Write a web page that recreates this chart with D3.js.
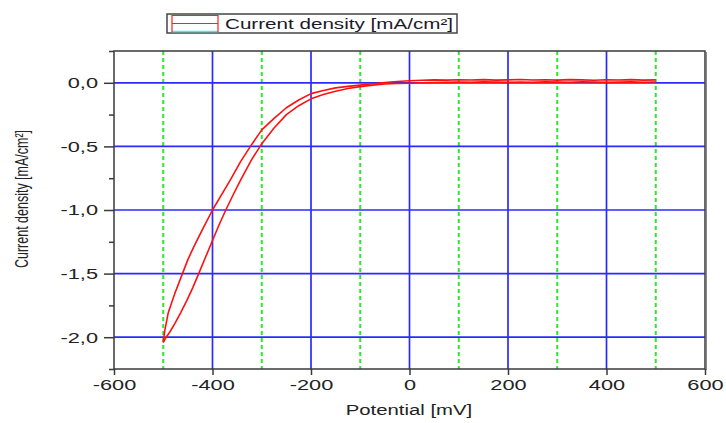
<!DOCTYPE html>
<html>
<head>
<meta charset="utf-8">
<script src="https://cdn.jsdelivr.net/npm/d3@7"></script>
<style>
  html, body { margin: 0; padding: 0; background: #fff; }
  svg { display: block; font-family: "Liberation Sans", Arial, sans-serif; }
</style>
</head>
<body>
<svg id="chart" width="726" height="423"></svg>
<script>
// Cyclic voltammogram: potential [mV] vs current density [mA/cm²]
// Cathodic sweep, 500 mV down to -500 mV
const sweepDownPotential = [500, 475, 450, 425, 400, 375, 350, 325, 300, 275, 250, 225, 200, 175, 150, 125, 100, 75, 50, 25, 0,
  -25, -50, -75, -100, -125, -150, -175, -200, -225, -250, -275, -300, -320, -343, -358, -373, -387, -400, -414, -428, -440, -452, -465, -476, -486, -494, -500];
const sweepDownCurrent = [0.006, 0.004, 0.007, 0.005, 0.003, 0.006, 0.008, 0.004, 0.005, 0.007, 0.004, 0.006, 0.003, 0.005, 0.007, 0.004, 0.005, 0.003, 0.002, 0.000, -0.003,
  -0.006, -0.010, -0.018, -0.030, -0.045, -0.066, -0.092, -0.126, -0.180, -0.250, -0.355, -0.480, -0.600, -0.765, -0.880, -1.000, -1.120, -1.240, -1.370, -1.500, -1.610, -1.710, -1.810, -1.890, -1.955, -2.000, -2.040];

// Anodic sweep, -500 mV back up to 500 mV
const sweepUpPotential = [-500, -497, -490, -476, -461, -450, -438, -420, -400, -380, -364, -343, -323, -300, -275, -250, -225, -200, -175, -150, -125, -100, -75, -50, -25, 0,
  25, 50, 75, 100, 125, 150, 175, 200, 225, 250, 275, 300, 325, 350, 375, 400, 425, 450, 475, 500];
const sweepUpCurrent = [-2.040, -1.950, -1.810, -1.650, -1.500, -1.390, -1.290, -1.150, -1.000, -0.870, -0.765, -0.620, -0.500, -0.370, -0.280, -0.196, -0.135, -0.085, -0.060, -0.040, -0.028, -0.018, -0.008, 0.002, 0.010, 0.016,
  0.020, 0.023, 0.021, 0.024, 0.022, 0.025, 0.021, 0.023, 0.026, 0.022, 0.024, 0.021, 0.025, 0.023, 0.020, 0.024, 0.022, 0.025, 0.021, 0.023];

const xTicks = [-600, -400, -200, 0, 200, 400, 600];
const xMinorGrid = [-500, -300, -100, 100, 300, 500];
const yTicks = [0, -0.5, -1.0, -1.5, -2.0];
const yMinorTicks = [0.25, -0.25, -0.75, -1.25, -1.75, -2.25];

const svg = d3.select("#chart");
const plotL = 114, plotR = 705, plotT = 51, plotB = 369;
const WIDEN = 1.45; // horizontal glyph stretch used for all labels

const x = d3.scaleLinear().domain([-600, 600]).range([plotL, plotR]);
const y = d3.scaleLinear().domain([0.25, -2.25]).range([plotT, plotB]);

const axisColor = "#3a3a3a";
const fmt = v => d3.format(".1f")(v).replace(".", ",").replace("−", "-");

// widen a text element's glyphs horizontally, keeping its anchor
function widen(sel) {
  sel.each(function () {
    const w = this.getComputedTextLength();
    d3.select(this).attr("textLength", w * WIDEN).attr("lengthAdjust", "spacingAndGlyphs");
  });
}

// grid
const grid = svg.append("g");
grid.selectAll("line.gmin").data(xMinorGrid).join("line")
  .attr("x1", d => x(d)).attr("x2", d => x(d))
  .attr("y1", plotT).attr("y2", plotB)
  .attr("stroke", "#2ee82e").attr("stroke-width", 2).attr("stroke-dasharray", "4,3");
grid.selectAll("line.gx").data(xTicks.filter(d => d > -600 && d < 600)).join("line")
  .attr("x1", d => x(d)).attr("x2", d => x(d))
  .attr("y1", plotT).attr("y2", plotB)
  .attr("stroke", "#2b2bff").attr("stroke-width", 1.7);
grid.selectAll("line.gy").data(yTicks).join("line")
  .attr("x1", plotL).attr("x2", plotR)
  .attr("y1", d => y(d)).attr("y2", d => y(d))
  .attr("stroke", "#2b2bff").attr("stroke-width", 1.7);

// curves
const line = d3.line().x(d => x(d[0])).y(d => y(d[1]));
const down = d3.zip(sweepDownPotential, sweepDownCurrent);
const up = d3.zip(sweepUpPotential, sweepUpCurrent);
[down, up].forEach(pts => {
  svg.append("path").datum(pts).attr("d", line)
    .attr("fill", "none").attr("stroke", "#ff1010").attr("stroke-width", 1.6)
    .attr("stroke-linejoin", "round");
});

// frame
svg.append("rect").attr("x", plotL).attr("y", plotT)
  .attr("width", plotR - plotL).attr("height", plotB - plotT)
  .attr("fill", "none").attr("stroke", axisColor).attr("stroke-width", 1.5);
svg.append("line").attr("x1", plotR + 1.5).attr("x2", plotR + 1.5)
  .attr("y1", plotT + 1).attr("y2", plotB + 1).attr("stroke", "#888").attr("stroke-width", 1);

// x axis
const xAxis = d3.axisBottom(x).tickValues(xTicks).tickSize(6).tickPadding(4)
  .tickFormat(d => String(d));
const gx = svg.append("g").attr("transform", `translate(0,${plotB})`).call(xAxis);
gx.attr("font-size", null).attr("font-family", null);
gx.select(".domain").remove();
gx.selectAll(".tick line").attr("stroke", axisColor).attr("stroke-width", 1.5);
gx.selectAll(".tick text").attr("fill", "#222").style("font-size", "15px").call(widen);

// y axis
const yAxis = d3.axisLeft(y).tickValues(yTicks).tickSize(10).tickPadding(6).tickFormat(fmt);
const gy = svg.append("g").attr("transform", `translate(${plotL},0)`).call(yAxis);
gy.attr("font-size", null).attr("font-family", null);
gy.select(".domain").remove();
gy.selectAll(".tick line").attr("stroke", axisColor).attr("stroke-width", 1.5);
gy.selectAll(".tick text").attr("fill", "#222").style("font-size", "15px").call(widen);
const yMinor = d3.axisLeft(y).tickValues(yMinorTicks).tickSize(5).tickFormat("");
const gym = svg.append("g").attr("transform", `translate(${plotL},0)`).call(yMinor);
gym.select(".domain").remove();
gym.selectAll(".tick line").attr("stroke", axisColor).attr("stroke-width", 1.5);

// axis titles
svg.append("text").attr("x", 409).attr("y", 415).attr("text-anchor", "middle")
  .style("font-size", "14px").attr("fill", "#222").text("Potential [mV]").call(widen);
svg.append("text").attr("transform", `translate(28,199) rotate(-90) scale(1,${WIDEN})`)
  .attr("text-anchor", "middle")
  .style("font-size", "12.5px").attr("fill", "#222").text("Current density [mA/cm²]");

// legend
const lg = svg.append("g");
lg.append("rect").attr("x", 167).attr("y", 14).attr("width", 290).attr("height", 19)
  .attr("fill", "#fff").attr("stroke", "#444").attr("stroke-width", 1.5);
lg.append("line").attr("x1", 172).attr("x2", 218).attr("y1", 31.5).attr("y2", 31.5)
  .attr("stroke", "#40f0f0").attr("stroke-width", 1.5);
lg.append("path").attr("d", "M172,32 V15.5 H218 V32 M172,23.5 H218")
  .attr("fill", "none").attr("stroke", "#ff2020").attr("stroke-width", 1.2);
lg.append("text").attr("x", 225).attr("y", 29)
  .attr("textLength", 228).attr("lengthAdjust", "spacingAndGlyphs")
  .style("font-size", "14px").attr("fill", "#1a1a2a").text("Current density [mA/cm²]");
</script>
</body>
</html>
